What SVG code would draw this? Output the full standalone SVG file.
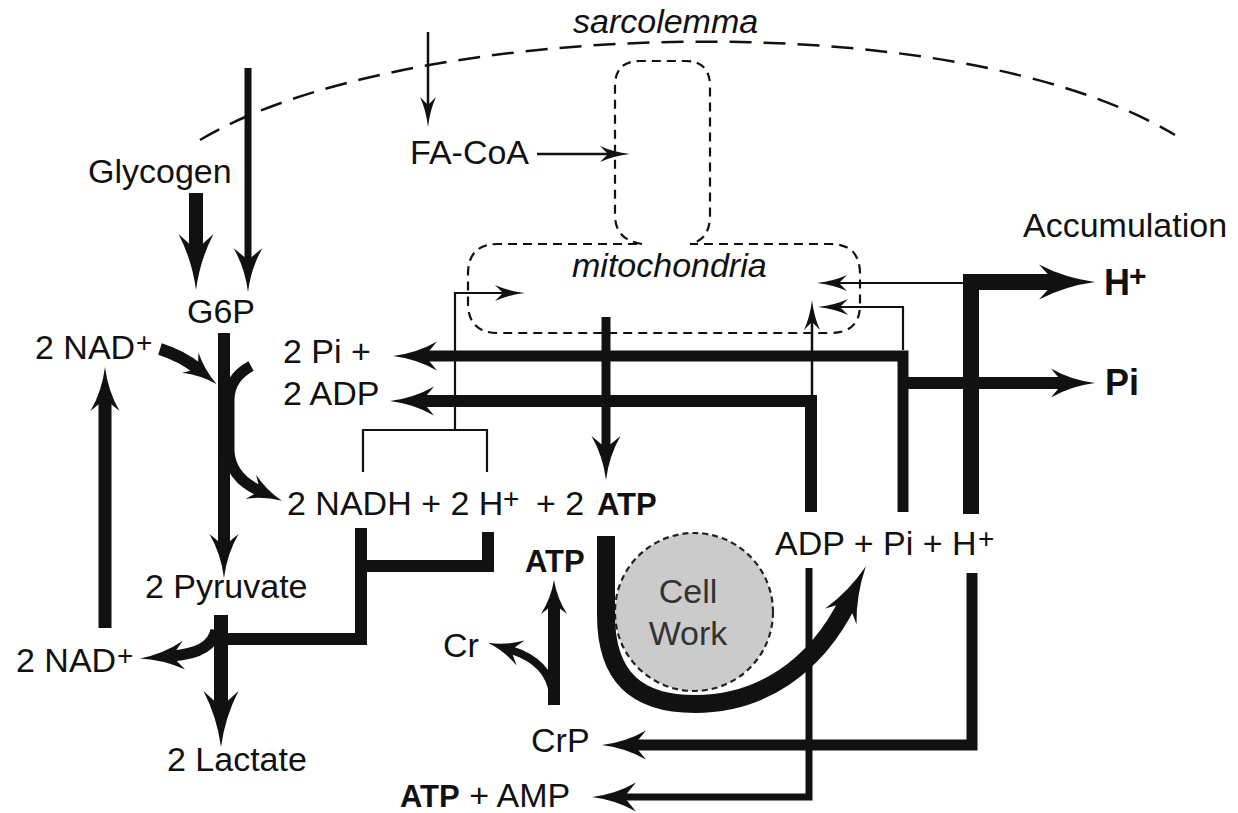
<svg xmlns="http://www.w3.org/2000/svg" width="1238" height="813" viewBox="0 0 1238 813">
<style>
  text { font-family: "Liberation Sans", Arial, Helvetica, sans-serif; font-size: 34px; fill: #111; }
  .it { font-style: italic; }
  .b { font-weight: bold; }
  .sup { font-size: 28px; }
  .ln { fill: none; stroke: #111; stroke-linejoin: miter; stroke-linecap: butt; }
  .thin { stroke-width: 2.2; }
  .mdash { fill: none; stroke: #111; stroke-width: 2.2; stroke-dasharray: 9 6; }
  .sdash { fill: none; stroke: #111; stroke-width: 2.5; stroke-dasharray: 22 12; }
  .work { fill: #333; }
</style>
<defs>
  <marker id="as" markerUnits="userSpaceOnUse" orient="auto" overflow="visible" markerWidth="10" markerHeight="10">
    <path d="M22,0 Q5,-2 -8,-8 L0,0 L-8,8 Q5,2 22,0 Z" fill="#111"/>
  </marker>
  <marker id="ac" markerUnits="userSpaceOnUse" orient="auto" overflow="visible" markerWidth="10" markerHeight="10">
    <path d="M24,0 Q6,-3 -10,-13 L0,0 L-10,13 Q6,3 24,0 Z" fill="#111"/>
  </marker>
  <marker id="am" markerUnits="userSpaceOnUse" orient="auto" overflow="visible" markerWidth="10" markerHeight="10">
    <path d="M32,0 Q8,-3 -12,-14.5 L0,0 L-12,14.5 Q8,3 32,0 Z" fill="#111"/>
  </marker>
  <marker id="al" markerUnits="userSpaceOnUse" orient="auto" overflow="visible" markerWidth="10" markerHeight="10">
    <path d="M40,0 Q10,-4 -16,-17.5 L0,0 L-16,17.5 Q10,4 40,0 Z" fill="#111"/>
  </marker>
</defs>
<rect width="1238" height="813" fill="#fff"/>

<g id="sarcolemma">
  <path class="sdash" d="M200,140 C400,20 950,0 1175,135"/>
  <text class="it" x="573" y="33">sarcolemma</text>
</g>

<g id="mitochondria">
  <path class="mdash" d="M642,244 Q615,240 615,215 V86 Q615,61 640,61 H685 Q710,61 710,86 V215 Q710,240 690,244 H830 Q860,244 860,274 V305 Q860,333 830,333 H498 Q468,333 468,303 V274 Q468,244 498,244 Z"/>
  <text class="it" x="572" y="277">mitochondria</text>
</g>

<g id="cellwork">
  <circle cx="694" cy="612" r="79" fill="#cbcbcb" stroke="#222" stroke-width="2.2" stroke-dasharray="6 4"/>
  <text class="work" x="688" y="603" text-anchor="middle">Cell</text>
  <text class="work" x="688" y="645" text-anchor="middle">Work</text>
</g>

<g id="connectors">
  <path class="ln" stroke-width="14" d="M196,193 V250" marker-end="url(#al)"/>
  <path class="ln" stroke-width="7" d="M248,68 V260" marker-end="url(#am)"/>
  <path class="ln" stroke-width="12" d="M224,333 V546" marker-end="url(#am)"/>
  <path class="ln" stroke-width="12" d="M160,349 Q182,356 198,369" marker-end="url(#ac)"/>
  <path class="ln" stroke-width="11" d="M251,366 Q229,378 229,400 V452 Q231,478 260,491" marker-end="url(#ac)"/>
  <path class="ln" stroke-width="13" d="M105,628 V399" marker-end="url(#am)"/>
  <path class="ln" stroke-width="14" d="M221,615 V707" marker-end="url(#al)"/>
  <path class="ln" stroke-width="11" d="M216,630 Q212,653 172,656" marker-end="url(#am)"/>
  <path class="ln" stroke-width="12" d="M361,528 V639 H221"/>
  <path class="ln" stroke-width="12" d="M488,532 V566 H361"/>
  <path class="ln thin" d="M363,472 V430 H487 V472"/>
  <path class="ln thin" d="M455,430 V293 H503" marker-end="url(#as)"/>
  <path class="ln" stroke-width="2.5" d="M428,32 V105" marker-end="url(#as)"/>
  <path class="ln" stroke-width="2.5" d="M537,154 H608" marker-end="url(#as)"/>
  <path class="ln" stroke-width="9" d="M606,317 V448" marker-end="url(#am)"/>
  <path class="ln" stroke-width="11" d="M903,512 V356 H425" marker-end="url(#am)"/>
  <path class="ln" stroke-width="12" d="M811,512 V401 H422" marker-end="url(#am)"/>
  <path class="ln" stroke-width="12" d="M903,383 H1063" marker-end="url(#am)"/>
  <path class="ln" stroke-width="16" d="M971,514 V282 H1055" marker-end="url(#al)"/>
  <path class="ln thin" d="M963,283 H839" marker-end="url(#as)"/>
  <path class="ln thin" d="M903,350 V307 H840" marker-end="url(#as)"/>
  <path class="ln" stroke-width="2.5" d="M812,400 V322" marker-end="url(#as)"/>
  <path class="ln" stroke-width="7" d="M809,568 V797 H624" marker-end="url(#am)"/>
  <path class="ln" stroke-width="11" d="M972,573 V745 H634" marker-end="url(#am)"/>
  <path class="ln" stroke-width="12" d="M554,705 V604" marker-end="url(#ac)"/>
  <path class="ln" stroke-width="8" d="M553,694 Q549,662 511,650" marker-end="url(#ac)"/>
  <path class="ln" stroke-width="18" d="M606,536 V615 C606,680 640,704 695,704 C760,704 815,668 848,602" marker-end="url(#al)"/>
</g>

<g id="n-glycogen"><text x="88" y="183">Glycogen</text></g>
<g id="n-g6p"><text x="187" y="323">G6P</text></g>
<g id="n-facoa"><text x="410" y="164">FA-CoA</text></g>
<g id="n-accumulation"><text x="1023" y="237">Accumulation</text></g>
<g id="n-hplus"><text class="b" x="1104" y="295" style="font-size:36px">H</text><text class="b" x="1129" y="286" style="font-size:30px">+</text></g>
<g id="n-pi"><text class="b" x="1105" y="395" style="font-size:36px">Pi</text></g>
<g id="n-nad-top"><text x="35" y="359">2 NAD</text><text class="sup" x="136" y="352">+</text></g>
<g id="n-2pi"><text x="283" y="363">2 Pi +</text></g>
<g id="n-2adp"><text x="283" y="405">2 ADP</text></g>
<g id="n-nadh">
  <text x="287" y="515">2 NADH + 2 H</text>
  <text class="sup" x="503" y="508">+</text>
  <text x="536" y="515">+ 2</text>
  <text class="b" x="597" y="515" style="font-size:31px">ATP</text>
</g>
<g id="n-pyruvate"><text x="145" y="598">2 Pyruvate</text></g>
<g id="n-nad-bottom"><text x="16" y="672">2 NAD</text><text class="sup" x="117" y="665">+</text></g>
<g id="n-lactate"><text x="167" y="771">2 Lactate</text></g>
<g id="n-atp"><text class="b" x="525" y="572" style="font-size:31px">ATP</text></g>
<g id="n-cr"><text x="443" y="657">Cr</text></g>
<g id="n-crp"><text x="531" y="752">CrP</text></g>
<g id="n-atpamp"><text x="400" y="807"><tspan class="b" style="font-size:31px">ATP</tspan> + AMP</text></g>
<g id="n-adp"><text x="775" y="555">ADP + Pi + H</text><text class="sup" x="978" y="548">+</text></g>
</svg>
